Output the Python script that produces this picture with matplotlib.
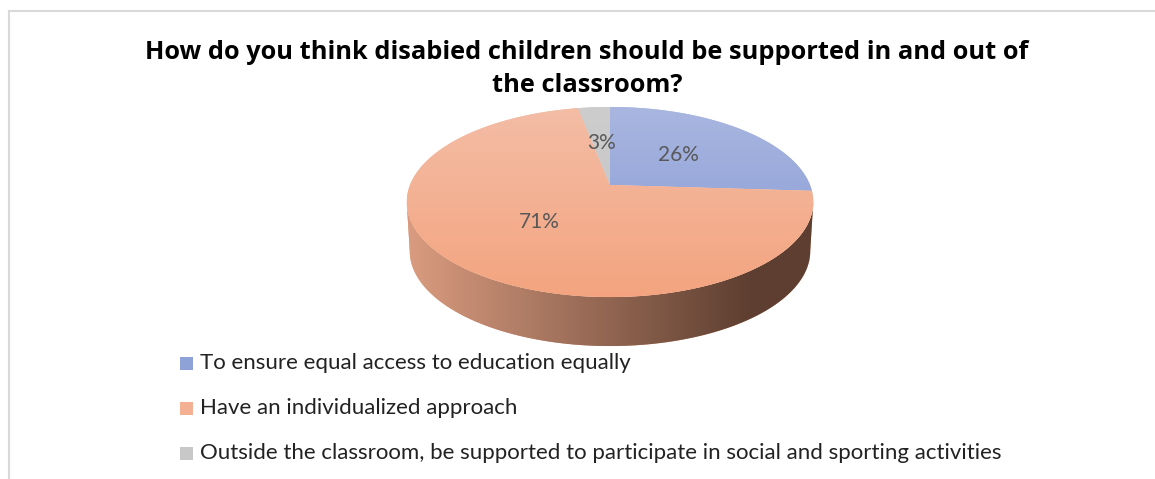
import numpy as np
import matplotlib.pyplot as plt
from matplotlib.patches import Polygon, Rectangle
from matplotlib.colors import to_rgb

# chart data
title = "How do you think disabied children should be supported in and out of\nthe classroom?"
labels = ["To ensure equal access to education equally",
          "Have an individualized approach",
          "Outside the classroom, be supported to participate in social and sporting activities"]
shares = [26, 71, 3]
pct_labels = ["26%", "71%", "3%"]

# colours: top face (upper, lower), side (light, dark), legend swatch
top_colors = [("#a9b6e0", "#8398d4"), ("#f3bda6", "#f4a47f"), ("#cdcdcd", "#c3c3c3")]
side_colors = [("#8d9fd0", "#3d4a6e"), ("#da9c80", "#5d3e30"), ("#bdbdbd", "#575757")]
legend_colors = ["#8fa2d8", "#f4b093", "#c8c8c8"]

W, H = 1155, 479
fig = plt.figure(figsize=(W / 100, H / 100), dpi=100)
ax = fig.add_axes([0, 0, 1, 1])

# pie geometry in pixels (simple perspective view of a disc)
cx, cy = 610, 185
R, A, K = 200, 92, 0.179
depth = 49


def proj(u, v, drop=0.0, scale=1.0):
    s = 1 + K * v
    return cx + scale * R * u / s, cy - A * v / s + drop


def rim(t0, t1, drop=0.0, scale=1.0, n=200):
    t = np.radians(np.linspace(t0, t1, n))
    x, y = proj(np.cos(t), np.sin(t), drop, scale)
    return np.column_stack([x, y])


def grad_fill(poly_xy, c_from, c_to, horizontal, lo, hi, curve=1.0):
    patch = Polygon(poly_xy, closed=True, facecolor=c_from, edgecolor="none")
    ax.add_patch(patch)
    x0, y0 = poly_xy.min(axis=0)
    x1, y1 = poly_xy.max(axis=0)
    nx, ny = 300, 150
    xs = np.linspace(x0, x1, nx)
    ys = np.linspace(y0, y1, ny)
    if horizontal:
        tt = np.clip((xs - lo) / (hi - lo), 0, 1) ** curve
        tt = np.tile(tt, (ny, 1))
    else:
        tt = np.clip((ys - lo) / (hi - lo), 0, 1) ** curve
        tt = np.tile(tt[:, None], (1, nx))
    a, b = np.array(to_rgb(c_from)), np.array(to_rgb(c_to))
    img = a + (b - a) * tt[..., None]
    im = ax.imshow(img, extent=(x0, x1, y1, y0), origin="upper",
                   aspect="auto", interpolation="bilinear", zorder=patch.get_zorder())
    im.set_clip_path(patch)


# slice angles, clockwise from 12 o'clock
ang = np.array(shares) / sum(shares) * 360
starts = 90 - np.concatenate([[0], np.cumsum(ang)[:-1]])
ends = starts - ang

# visible front wall range
tl = 180 + np.degrees(np.arcsin(K))
tr = 360 - np.degrees(np.arcsin(K))
xl = cx - R / np.sqrt(1 - K ** 2)
xr = cx + R / np.sqrt(1 - K ** 2)

for i in range(len(shares)):
    for sh in (-360, 0, 360):
        lo = max(ends[i] + sh, tl)
        hi = min(starts[i] + sh, tr)
        if lo < hi:
            top = rim(lo, hi)
            bot = rim(hi, lo, drop=depth, scale=0.985)
            grad_fill(np.vstack([top, bot]), side_colors[i][0], side_colors[i][1],
                      True, xl, xl + 0.85 * (xr - xl))

ytop = cy - A / (1 + K)
ybot = cy + A / (1 - K)
for i in range(len(shares)):
    poly = np.vstack([[cx, cy], rim(starts[i], ends[i])])
    grad_fill(poly, top_colors[i][0], top_colors[i][1], False, ytop, ybot)

# percentage labels
for i in range(len(shares)):
    m = np.radians((starts[i] + ends[i]) / 2)
    x, y = proj(0.5 * np.cos(m), 0.5 * np.sin(m))
    ax.text(x, y, pct_labels[i], ha="center", va="center", fontsize=15,
            color="#595959", family="Lato")

# title
ax.text(587, 69, title, ha="center", va="center", fontsize=18.3,
        fontweight="bold", family="Open Sans", color="black", linespacing=1.38)

# legend
for i, lab in enumerate(labels):
    y = 363 + 45 * i
    ax.add_patch(Rectangle((180, y - 6.5), 13, 13, facecolor=legend_colors[i], edgecolor="none"))
    ax.text(200, y, lab, ha="left", va="center", fontsize=16, family="Lato", color="#222222")

# chart frame
ax.plot([9, 9], [11, H], color="#d9d9d9", lw=1.5)
ax.plot([9, W], [11, 11], color="#d9d9d9", lw=1.5)

ax.set_xlim(0, W)
ax.set_ylim(H, 0)
ax.axis("off")
fig.savefig("out.png", dpi=100)
